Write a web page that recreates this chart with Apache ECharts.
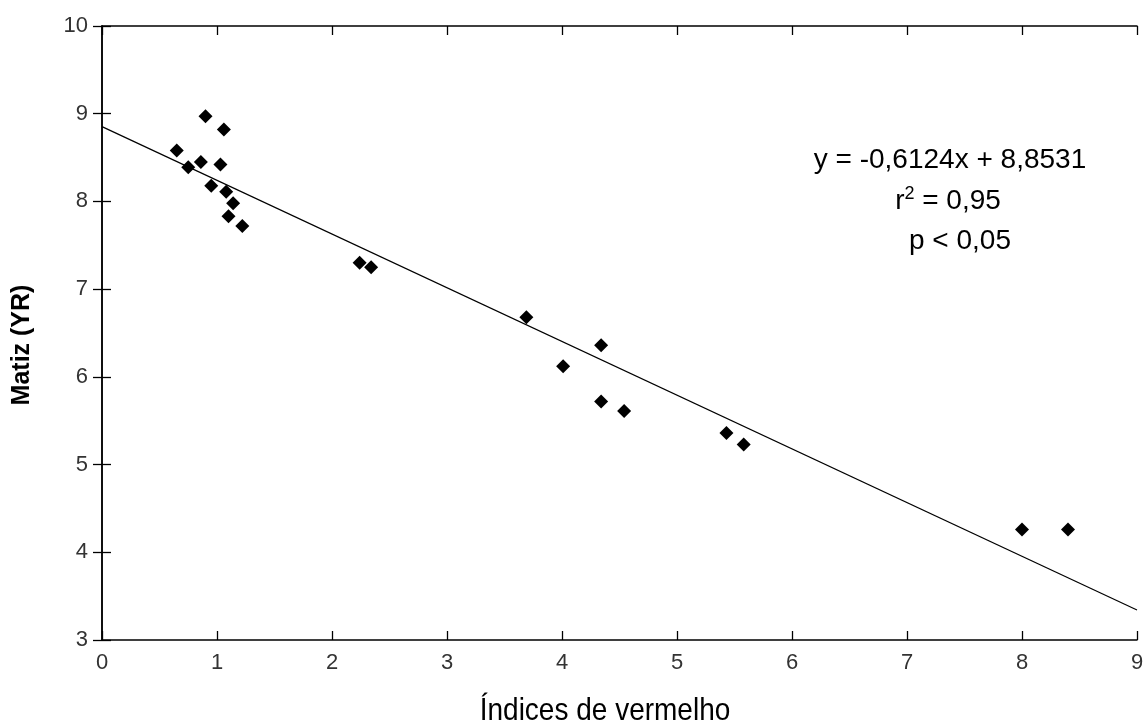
<!DOCTYPE html>
<html>
<head>
<meta charset="utf-8">
<script src="https://cdn.jsdelivr.net/npm/echarts@6/dist/echarts.min.js"></script>
<style>
html,body{margin:0;padding:0;background:#fff;}
#chart{width:1147px;height:726px;}
</style>
</head>
<body>
<div id="chart"></div>
<script>
// Data
const indicesVermelho = [0.65, 0.75, 0.86, 0.90, 0.95, 1.03, 1.06, 1.08, 1.14, 1.10, 1.22, 2.24, 2.34, 3.69, 4.01, 4.34, 4.34, 4.54, 5.43, 5.58, 8.00, 8.40];
const matiz          = [8.58, 8.39, 8.45, 8.97, 8.18, 8.42, 8.82, 8.11, 7.98, 7.83, 7.72, 7.30, 7.25, 6.68, 6.12, 6.36, 5.72, 5.61, 5.36, 5.23, 4.26, 4.26];
const slope = -0.6124;
const intercept = 8.8531;
const lineX = [0, 9];
const xTicks = [0, 1, 2, 3, 4, 5, 6, 7, 8, 9];
const yTicks = [3, 4, 5, 6, 7, 8, 9, 10];
const eqText = 'y = -0,6124x + 8,8531';
const r2Text = '= 0,95';
const pText = 'p < 0,05';
const xTitle = 'Índices de vermelho';
const yTitle = 'Matiz (YR)';

const points = indicesVermelho.map((x, i) => [x, matiz[i]]);
const linePts = lineX.map(x => [x, slope * x + intercept]);

const chart = echarts.init(document.getElementById('chart'), null, {renderer: 'canvas'});
const font = 'Liberation Sans, Arial, sans-serif';
const axisLineStyle = {color: '#000', width: 1.5};
const tickStyle = {color: '#000', width: 1.3};

chart.setOption({
  backgroundColor: '#fff',
  animation: false,
  grid: {left: 102, right: 10, top: 26, bottom: 86, containLabel: false},
  xAxis: [
    {
      type: 'value', min: xTicks[0], max: xTicks[xTicks.length - 1], interval: 1,
      position: 'bottom',
      axisLine: {show: true, lineStyle: axisLineStyle},
      axisTick: {show: true, inside: true, length: 9, lineStyle: tickStyle},
      axisLabel: {fontFamily: font, fontSize: 22, color: '#333', margin: 12},
      splitLine: {show: false}
    },
    {
      type: 'value', min: xTicks[0], max: xTicks[xTicks.length - 1], interval: 1,
      position: 'top',
      axisLine: {show: true, lineStyle: axisLineStyle},
      axisTick: {show: true, inside: true, length: 9, lineStyle: tickStyle},
      axisLabel: {show: false},
      splitLine: {show: false}
    }
  ],
  yAxis: [
    {
      type: 'value', min: yTicks[0], max: yTicks[yTicks.length - 1], interval: 1,
      position: 'left',
      axisLine: {show: true, lineStyle: axisLineStyle},
      axisTick: {show: true, inside: true, length: 9, lineStyle: tickStyle},
      axisLabel: {fontFamily: font, fontSize: 22, color: '#333', margin: 14},
      splitLine: {show: false}
    },
    {
      type: 'value', min: yTicks[0], max: yTicks[yTicks.length - 1], interval: 1,
      position: 'right',
      axisLine: {show: true, lineStyle: axisLineStyle},
      axisTick: {show: true, inside: true, length: 9, lineStyle: tickStyle},
      axisLabel: {show: false},
      splitLine: {show: false}
    }
  ],
  series: [
    {
      type: 'line', data: linePts, showSymbol: false, symbol: 'none',
      lineStyle: {color: '#000', width: 1.2}, silent: true, z: 2
    },
    {
      type: 'scatter', data: points, symbol: 'diamond', symbolSize: 14,
      itemStyle: {color: '#000', opacity: 1}, z: 3
    }
  ],
  graphic: [
    {
      type: 'text', x: 950, y: 160,
      style: {text: eqText, font: '28px ' + font, fill: '#000', textAlign: 'center', textVerticalAlign: 'middle'}
    },
    {
      type: 'text', x: 948, y: 201,
      style: {
        text: '{b|r}{s|2}{b| ' + r2Text + '}',
        textAlign: 'center', textVerticalAlign: 'middle',
        rich: {
          b: {fontFamily: font, fontSize: 28, color: '#000'},
          s: {fontFamily: font, fontSize: 18, color: '#000', verticalAlign: 'top', padding: [0, 0, 14, 0]}
        }
      }
    },
    {
      type: 'text', x: 960, y: 241,
      style: {text: pText, font: '28px ' + font, fill: '#000', textAlign: 'center', textVerticalAlign: 'middle'}
    },
    {
      type: 'text', x: 605, y: 711, scaleY: 1.12,
      style: {text: xTitle, font: '28px ' + font, fill: '#000', textAlign: 'center', textVerticalAlign: 'middle'}
    },
    {
      type: 'text', x: 22, y: 345, rotation: Math.PI / 2,
      style: {text: yTitle, font: 'bold 25px ' + font, fill: '#000', textAlign: 'center', textVerticalAlign: 'middle'}
    }
  ]
});
</script>
</body>
</html>
